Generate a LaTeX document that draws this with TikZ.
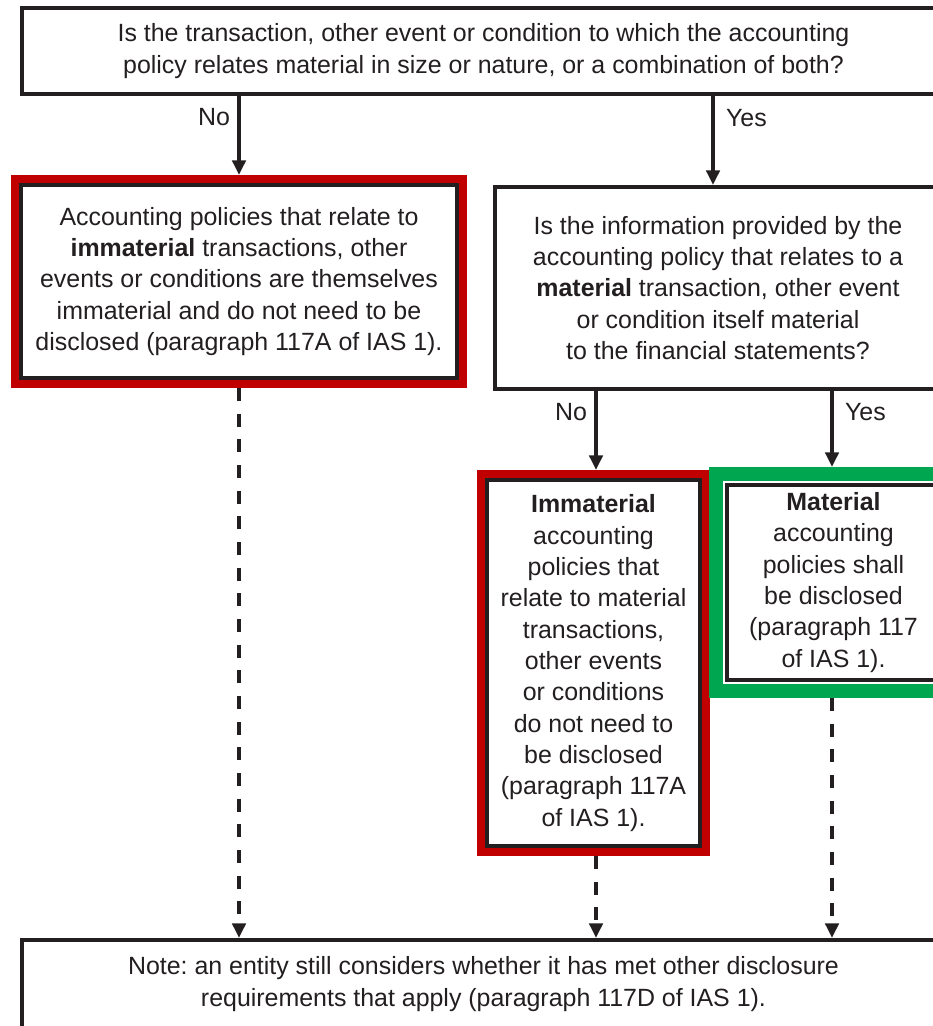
\documentclass[tikz,border=0pt]{standalone}
\usepackage{fontspec}
\setmainfont{Liberation Sans}
\usetikzlibrary{arrows.meta,fit}
\definecolor{framered}{RGB}{192,0,0}
\definecolor{framegreen}{RGB}{0,166,80}
\definecolor{ink}{RGB}{35,31,32}
\frenchspacing
\begin{document}
\begin{tikzpicture}[x=0.75pt,y=-0.75pt,
  every node/.style={font=\fontsize{18.7pt}{23.5pt}\selectfont, text=ink},
  box/.style={draw=ink, line width=3pt, fill=white, align=center, inner sep=0pt},
  redframe/.style={draw=framered, line width=6pt, inner sep=3pt},
  greenframe/.style={draw=framegreen, line width=10.5pt, inner sep=6.75pt},
  arr/.style={draw=ink, line width=2.6pt, -{Triangle[length=11pt,width=10pt]}},
  darr/.style={arr, dash pattern=on 9.75pt off 9.5pt},
  lbl/.style={inner sep=5.5pt}
]
\useasboundingbox (0,0) rectangle (933,1026);
\clip (0,0) rectangle (933,1026);

% boxes
\node[box, minimum width=923*0.75pt, minimum height=86*0.75pt] (top) at (483.5,51)
  {Is the transaction, other event or condition to which the accounting\\
   policy relates material in size or nature, or a combination of both?};
\node[box, minimum width=436*0.75pt, minimum height=193*0.75pt] (b1) at (239,281.5)
  {Accounting policies that relate to\\
   \textbf{immaterial} transactions, other\\
   events or conditions are themselves\\
   immaterial and do not need to be\\
   disclosed (paragraph 117A of IAS 1).};
\node[redframe, fit=(b1)] (r1) {};
\node[box, minimum width=446*0.75pt, minimum height=202*0.75pt] (q2) at (718,288)
  {Is the information provided by the\\
   accounting policy that relates to a\\
   \textbf{material} transaction, other event\\
   or condition itself material\\
   to the financial statements?};
\node[box, minimum width=213*0.75pt, minimum height=366*0.75pt] (b2) at (593.5,663)
  {\textbf{Immaterial}\\ accounting\\ policies that\\ relate to material\\ transactions,\\
   other events\\ or conditions\\ do not need to\\ be disclosed\\ (paragraph 117A\\ of IAS 1).};
\node[redframe, fit=(b2)] (r2) {};
\node[box, minimum width=213*0.75pt, minimum height=195*0.75pt] (b3) at (833.5,582.5)
  {\textbf{Material}\\ accounting\\ policies shall\\ be disclosed\\ (paragraph 117\\ of IAS 1).};
\node[greenframe, fit=(b3)] (g3) {};
\node[box, minimum width=923*0.75pt, minimum height=200*0.75pt] (bot) at (483.5,1040) {};
\node[align=center, inner sep=0pt] (note) at (483.5,984)
  {Note: an entity still considers whether it has met other disclosure\\
   requirements that apply (paragraph 117D of IAS 1).};

% arrow x positions
\coordinate (xa) at (239,0);
\coordinate (xb) at (713,0);
\coordinate (xc) at (596,0);
\coordinate (xd) at (832,0);

% solid arrows
\draw[arr] (xa |- top.south) -- node[lbl, left, pos=0.27] {No} (xa |- r1.north);
\draw[arr] (xb |- top.south) -- node[lbl, right, pos=0.25, xshift=3pt] {Yes} (xb |- q2.north);
\draw[arr] (xc |- q2.south) -- node[lbl, left, pos=0.27] {No} (xc |- r2.north);
\draw[arr] (xd |- q2.south) -- node[lbl, right, pos=0.28, xshift=3pt] {Yes} (xd |- g3.north);

% dashed arrows
\draw[darr] (xa |- r1.south) -- (xa |- bot.north);
\draw[darr] (xc |- r2.south) -- (xc |- bot.north);
\draw[darr] (xd |- g3.south) -- (xd |- bot.north);
\end{tikzpicture}
\end{document}
